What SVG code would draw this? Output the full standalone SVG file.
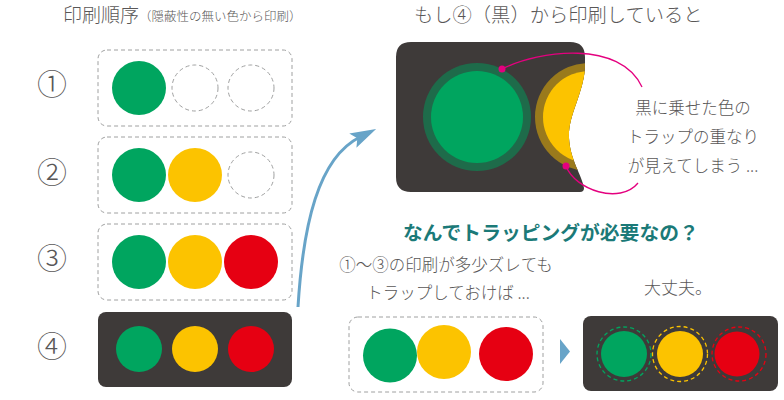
<svg xmlns="http://www.w3.org/2000/svg" width="784" height="400" viewBox="0 0 784 400">
<style>
  text { font-family: "Noto Sans CJK JP", "Noto Sans", sans-serif; fill: #595757; font-weight: 300; }
  .num { font-size: 30px; text-anchor: middle; }
  .dash { fill: none; stroke: #9fa0a0; stroke-width: 1; stroke-dasharray: 4 3; }
  .dark { fill: #3e3a39; }
  .g { fill: #00a55f; }
  .y { fill: #fcc300; }
  .r { fill: #e60012; }
  .pink { fill: none; stroke: #e4007f; stroke-width: 1.3; }
  .pdot { fill: #e4007f; }
</style>
<defs>
  <marker id="ah" markerUnits="userSpaceOnUse" markerWidth="26" markerHeight="16" viewBox="0 0 26 16" refX="8" refY="8" orient="auto">
    <path d="M0,0 L26,8 L0,16 L5,8 Z" fill="#68a4c8"/>
  </marker>
  <clipPath id="waveclip">
    <path d="M411,42 H570 Q585,42 585,57 V68 C583,95 568,115 569,138 C570,160 582,175 584,188 Q584,192 580,192 H411 Q396,192 396,177 V57 Q396,42 411,42 Z"/>
  </clipPath>
</defs>

<g id="title-left">
  <text x="63" y="22" font-size="19">印刷順序</text>
  <text x="139" y="21" font-size="12.5">（隠蔽性の無い色から印刷）</text>
</g>
<g id="title-right">
  <text x="414" y="22" font-size="19.3">もし④（黒）から印刷していると</text>
</g>

<g id="step1">
  <text class="num" x="52" y="95">①</text>
  <rect class="dash" x="98" y="50" width="194" height="76" rx="9"/>
  <circle class="g" cx="139" cy="88" r="27"/>
  <circle class="dash" cx="195" cy="88" r="23"/>
  <circle class="dash" cx="251" cy="88" r="23"/>
</g>
<g id="step2">
  <text class="num" x="52" y="183">②</text>
  <rect class="dash" x="98" y="137" width="194" height="76" rx="9"/>
  <circle class="g" cx="139" cy="175" r="27"/>
  <circle class="y" cx="195" cy="175" r="27"/>
  <circle class="dash" cx="251" cy="175" r="23"/>
</g>
<g id="step3">
  <text class="num" x="52" y="269">③</text>
  <rect class="dash" x="98" y="224" width="194" height="76" rx="9"/>
  <circle class="g" cx="139" cy="262" r="27"/>
  <circle class="y" cx="195" cy="262" r="27"/>
  <circle class="r" cx="251" cy="262" r="27"/>
</g>
<g id="step4">
  <text class="num" x="52" y="357">④</text>
  <rect class="dark" x="98" y="312" width="194" height="75" rx="8"/>
  <circle class="g" cx="139" cy="349" r="23"/>
  <circle class="y" cx="195" cy="349" r="23"/>
  <circle class="r" cx="251" cy="349" r="23"/>
</g>

<g id="if-black-first">
  <path class="dark" d="M411,42 H570 Q585,42 585,57 V68 C583,95 568,115 569,138 C570,160 582,175 584,188 Q584,192 580,192 H411 Q396,192 396,177 V57 Q396,42 411,42 Z"/>
  <g clip-path="url(#waveclip)">
    <circle cx="477" cy="117" r="54" fill="#1e6b4a"/>
    <circle class="g" cx="477" cy="117" r="46"/>
    <circle cx="589" cy="117" r="54" fill="#9a7a1c"/>
    <circle class="y" cx="589" cy="117" r="46"/>
  </g>
</g>
<g id="note">
  <text x="693" y="114" font-size="16.5" text-anchor="middle">黒に乗せた色の</text>
  <text x="693" y="143" font-size="16.5" text-anchor="middle">トラップの重なり</text>
  <text x="693" y="172" font-size="16.5" text-anchor="middle">が見えてしまう ...</text>
</g>

<g id="question">
  <text x="403" y="240" font-size="19.8" style="fill:#1b7a78;font-weight:700">なんでトラッピングが必要なの？</text>
  <text x="446" y="271" font-size="16.5" text-anchor="middle">①〜③の印刷が多少ズレても</text>
  <text x="448" y="299" font-size="16.5" text-anchor="middle">トラップしておけば ...</text>
</g>

<g id="shifted">
  <rect class="dash" x="349" y="317" width="194" height="75" rx="9"/>
  <circle class="g" cx="390" cy="355.5" r="27"/>
  <circle class="y" cx="444" cy="352" r="27"/>
  <circle class="r" cx="506" cy="354" r="27"/>
</g>

<g id="ok-label">
  <text x="644" y="294" font-size="17">大丈夫。</text>
</g>
<g id="trapped">
  <rect class="dark" x="583" y="316" width="195" height="75" rx="8"/>
  <circle class="g" cx="624" cy="354" r="23"/>
  <circle cx="624" cy="354" r="27" fill="none" stroke="#00a55f" stroke-width="1.3" stroke-dasharray="4 3"/>
  <circle class="y" cx="680" cy="354" r="23"/>
  <circle cx="680" cy="354" r="27.5" fill="none" stroke="#fcc300" stroke-width="1.3" stroke-dasharray="4 3"/>
  <circle class="r" cx="737" cy="354" r="22.5"/>
  <circle cx="739" cy="354" r="27" fill="none" stroke="#e60012" stroke-width="1.3" stroke-dasharray="4 3"/>
</g>

<g id="connectors">
  <path d="M298,307 C303,225 318,158 360,137" fill="none" stroke="#68a4c8" stroke-width="3" marker-end="url(#ah)"/>
  <path d="M560,339 L570,351.5 L560,364 Z" fill="#68a4c8"/>
  <path class="pink" d="M502,69 C540,50 620,40 642,87"/>
  <path class="pink" d="M566,166 C575,190 620,205 638,183"/>
  <circle class="pdot" cx="502" cy="69" r="3.5"/>
  <circle class="pdot" cx="566" cy="166" r="3.5"/>
</g>
</svg>
